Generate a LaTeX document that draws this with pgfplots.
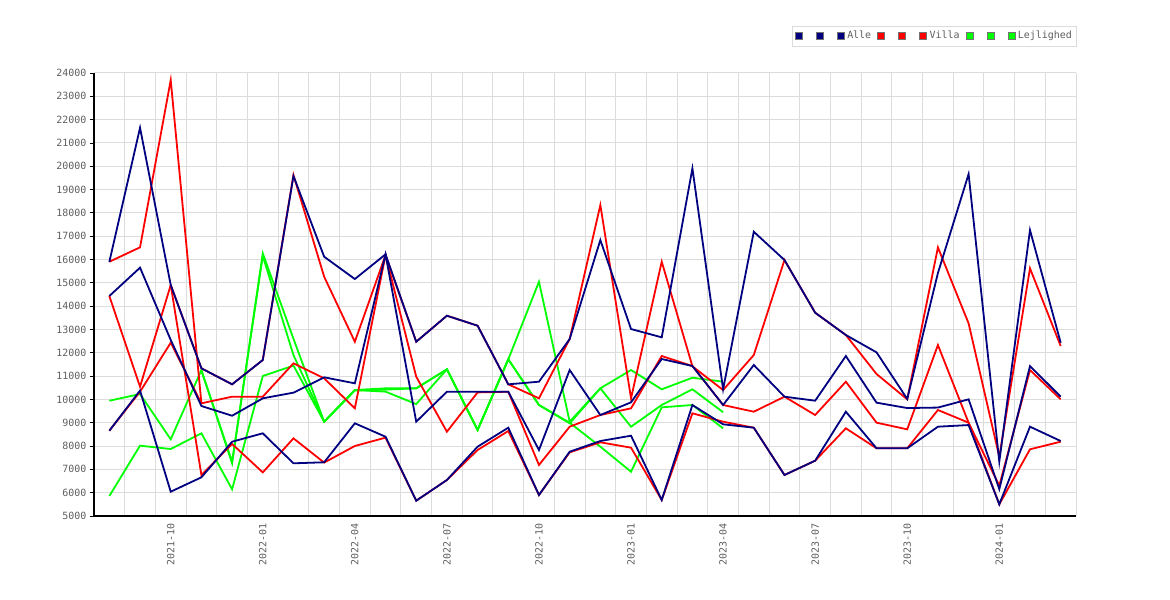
\documentclass[border=0pt]{standalone}
\usepackage{pgfplots}
\usepackage{pgfplotstable}
\pgfplotsset{compat=1.18}
\usepackage{fontspec}
\setmainfont{DejaVu Sans Mono}
\definecolor{navyc}{RGB}{0,0,128}
\definecolor{redc}{RGB}{255,0,0}
\definecolor{greenc}{RGB}{0,255,0}
\definecolor{gridc}{RGB}{220,220,220}
\definecolor{labc}{RGB}{95,95,95}

\pgfplotstableread{
i AU AM AL VU VM VL G1 G2 G3
0 15900 14434 8658 15905 14434 nan 9944 5858 nan
1 21650 15650 10380 16522 10545 nan 10232 8016 nan
2 14906 12550 6042 23696 14906 14906 8288 7873 nan
3 11334 9717 6659 9833 11334 6758 11260 8546 11230
4 10647 9300 8186 10117 10647 8088 7260 6145 7330
5 11690 10047 8546 10117 11690 6870 16265 11003 16150
6 19580 10290 7260 11547 19622 8330 12600 11450 11900
7 16120 10948 7303 10905 15262 7290 9044 9044 9044
8 15163 10690 8975 9618 12474 8002 10403 10403 10380
9 16222 16222 8400 16190 16190 8360 10475 10333 10420
10 12474 9044 5656 12474 10974 5656 10475 9800 10475
11 13590 10330 6544 13590 8615 6544 11290 11290 11290
12 13161 10330 7973 13161 10300 7830 8688 8688 8688
13 10647 10330 8787 10647 10330 8645 11719 11719 11719
14 10760 7830 5900 10047 7187 5900 15047 9760 9760
15 12590 11260 7757 12590 8830 7730 9044 8974 9000
16 16835 9331 8216 18336 9331 8160 10476 10476 7973
17 13019 9875 8443 10047 9618 7930 11260 8830 6900
18 12662 11733 5686 15905 11861 5686 10433 9760 9660
19 19910 11432 9760 11420 11432 9404 10930 10433 9760
20 10433 9760 8932 10403 9760 9044 10760 9450 8760
21 17191 11475 8787 11904 9473 8787 nan nan nan
22 15978 10117 6758 15978 10117 6758 nan nan nan
23 13718 9945 7372 13718 9331 7372 nan nan nan
24 12762 11861 9473 12762 10760 8760 nan nan nan
25 12019 9860 7903 11089 9002 7903 nan nan nan
26 10020 9630 7903 10004 8717 7903 nan nan nan
27 15420 9650 8830 16520 12333 9546 nan nan nan
28 19665 10004 8900 13260 9000 9002 nan nan nan
29 7330 6150 5500 7540 6300 5500 nan nan nan
30 17264 11432 8830 15622 11260 7860 nan nan nan
31 12431 10117 8216 12290 10004 8187 nan nan nan
}\data

\begin{document}
\begin{tikzpicture}[x=1bp,y=1bp]
\useasboundingbox (0,0) rectangle (1170,600);
\begin{axis}[
  at={(94bp,84bp)}, anchor=south west,
  scale only axis, width=982bp, height=443bp,
  xmin=-0.5, xmax=31.5, ymin=5000, ymax=24000,
  axis lines*=left,
  axis line style={black, line width=1.2bp},
  unbounded coords=jump,
  xtick={2,5,8,11,14,17,20,23,26,29},
  xticklabels={2021-10,2022-01,2022-04,2022-07,2022-10,2023-01,2023-04,2023-07,2023-10,2024-01},
  minor xtick={0.5,1.5,...,31.5},
  xminorgrids,
  minor grid style={gridc, line width=1bp},
  minor tick length=0pt,
  ytick={5000,6000,...,24000},
  ymajorgrids,
  major grid style={gridc, line width=1bp},
  xtick style={draw=none},
  ytick style={black, line width=0.8bp},
  tick align=outside,
  major tick length=4bp,
  scaled y ticks=false,
  /pgf/number format/.cd, 1000 sep={}, assume math mode=true,
  /pgfplots/.cd,
  tick label style={font=\fontsize{10}{12}\selectfont, text=labc},
  x tick label style={rotate=90, anchor=east},
  legend columns=9,
  legend style={at={(1,1.106)}, anchor=north east, draw=gridc, fill=white,
    font=\fontsize{10}{12}\selectfont, text=labc, inner xsep=3bp, inner ysep=3.5bp,
    nodes={inner ysep=1bp, inner xsep=1bp, text height=8bp, text depth=2.5bp},
    /tikz/every odd column/.append style={column sep=1.5bp},
    /tikz/every even column/.append style={column sep=5bp}},
  every axis plot/.append style={line width=1.8bp, line join=miter},
]
\addlegendimage{legend image code/.code={\draw[fill=navyc,draw=black!55,line width=0.6bp] (0bp,-3.5bp) rectangle (7bp,3.5bp);}}
\addlegendentry{\hspace*{5bp}}
\addlegendimage{legend image code/.code={\draw[fill=navyc,draw=black!55,line width=0.6bp] (0bp,-3.5bp) rectangle (7bp,3.5bp);}}
\addlegendentry{\hspace*{5bp}}
\addlegendimage{legend image code/.code={\draw[fill=navyc,draw=black!55,line width=0.6bp] (0bp,-3.5bp) rectangle (7bp,3.5bp);}}
\addlegendentry{Alle}
\addlegendimage{legend image code/.code={\draw[fill=redc,draw=black!55,line width=0.6bp] (0bp,-3.5bp) rectangle (7bp,3.5bp);}}
\addlegendentry{\hspace*{5bp}}
\addlegendimage{legend image code/.code={\draw[fill=redc,draw=black!55,line width=0.6bp] (0bp,-3.5bp) rectangle (7bp,3.5bp);}}
\addlegendentry{\hspace*{5bp}}
\addlegendimage{legend image code/.code={\draw[fill=redc,draw=black!55,line width=0.6bp] (0bp,-3.5bp) rectangle (7bp,3.5bp);}}
\addlegendentry{Villa}
\addlegendimage{legend image code/.code={\draw[fill=greenc,draw=black!55,line width=0.6bp] (0bp,-3.5bp) rectangle (7bp,3.5bp);}}
\addlegendentry{\hspace*{5bp}}
\addlegendimage{legend image code/.code={\draw[fill=greenc,draw=black!55,line width=0.6bp] (0bp,-3.5bp) rectangle (7bp,3.5bp);}}
\addlegendentry{\hspace*{5bp}}
\addlegendimage{legend image code/.code={\draw[fill=greenc,draw=black!55,line width=0.6bp] (0bp,-3.5bp) rectangle (7bp,3.5bp);}}
\addlegendentry{Lejlighed}

\addplot[greenc, forget plot] table[x=i,y=G3] {\data};
\addplot[greenc, forget plot] table[x=i,y=G2] {\data};
\addplot[greenc, forget plot] table[x=i,y=G1] {\data};
\addplot[redc, forget plot] coordinates {(0,8658) (1,10330) (2,12432) (3,9833)};
\addplot[redc, forget plot] table[x=i,y=VL] {\data};
\addplot[redc, forget plot] table[x=i,y=VM] {\data};
\addplot[redc, forget plot] table[x=i,y=VU] {\data};
\addplot[navyc, forget plot] table[x=i,y=AL] {\data};
\addplot[navyc, forget plot] table[x=i,y=AM] {\data};
\addplot[navyc, forget plot] table[x=i,y=AU] {\data};
\end{axis}
\end{tikzpicture}
\end{document}
